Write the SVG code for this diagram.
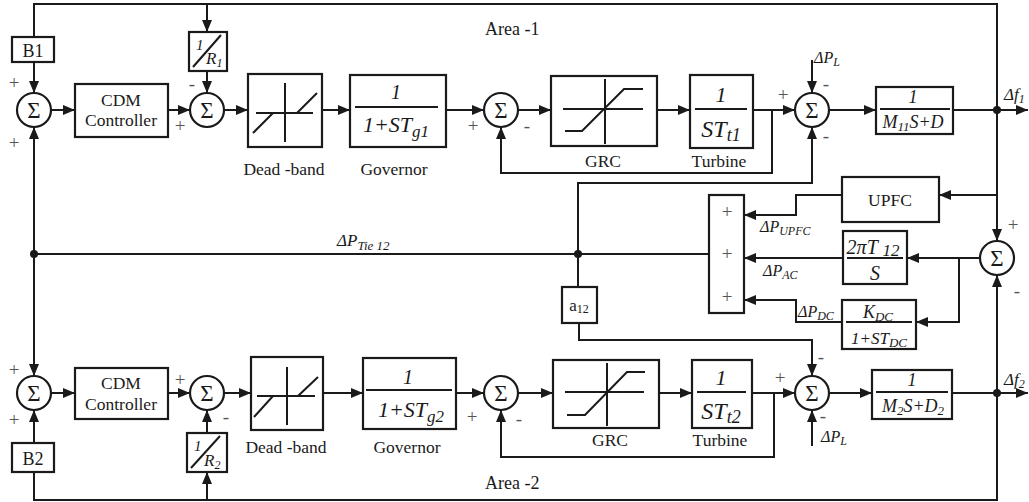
<svg xmlns="http://www.w3.org/2000/svg" width="1029" height="502" viewBox="0 0 1029 502">
<defs>
<marker id="ar" markerUnits="userSpaceOnUse" markerWidth="13" markerHeight="10" refX="12" refY="5" orient="auto">
<path d="M0,0 L12,5 L0,10 Z" fill="#1a1a1a"/>
</marker>
<style>
.blk{fill:#fff;stroke:#1a1a1a;stroke-width:2.2}
.ln{fill:none;stroke:#1a1a1a;stroke-width:2}
.ar{marker-end:url(#ar)}
.in{fill:none;stroke:#1a1a1a;stroke-width:2}
.sg{fill:#fff;stroke:#1a1a1a;stroke-width:2.2}
.t{font-family:"Liberation Serif","Times New Roman",serif;fill:#1a1a1a}
.lab{font-size:17.5px;text-anchor:middle}
.m{font-style:italic;text-anchor:middle}
.sn{font-family:"Liberation Serif",serif;font-size:19px;fill:#555;text-anchor:middle}
.sig{font-family:"Liberation Serif",serif;font-size:23px;fill:#1a1a1a;text-anchor:middle}
.dot{fill:#1a1a1a}
</style>
</defs>

<g id="connectors">
<path class="ln" d="M997,110 V4 H34 V37"/>
<path class="ln ar" d="M207,4 V32"/>
<path class="ln ar" d="M34,62 V93"/>
<path class="ln ar" d="M51,110 H75"/>
<path class="ln ar" d="M168,110 H190"/>
<path class="ln ar" d="M207,71 V93"/>
<path class="ln ar" d="M224,110 H248"/>
<path class="ln ar" d="M322,110 H350"/>
<path class="ln ar" d="M446,110 H484"/>
<path class="ln ar" d="M518,110 H551"/>
<path class="ln ar" d="M657,110 H690"/>
<path class="ln ar" d="M753,110 H795"/>
<path class="ln ar" d="M772,110 V173 H501 V127"/>
<path class="ln ar" d="M812,60 V93"/>
<path class="ln ar" d="M829,110 H876"/>
<path class="ln ar" d="M953,110 H1028"/>
<path class="ln ar" d="M997,110 V241"/>
<path class="ln ar" d="M997,195 H939"/>
<path class="ln ar" d="M842,195 H796 V215 H744"/>
<path class="ln ar" d="M980,258 H907"/>
<path class="ln ar" d="M959,258 V322 H916"/>
<path class="ln ar" d="M843,258 H744"/>
<path class="ln ar" d="M842,322 H796 V300 H744"/>
<path class="ln" d="M709,254 H34"/>
<path class="ln ar" d="M578,254 V183 H812 V127"/>
<path class="ln" d="M578,254 V287"/>
<path class="ln ar" d="M579,323 V340 H812 V376"/>
<path class="ln ar" d="M34,254 V127"/>
<path class="ln ar" d="M34,254 V376"/>
<path class="ln ar" d="M997,393 V275"/>
<path class="ln" d="M34,472 V500 H997 V393"/>
<path class="ln ar" d="M34,443 V410"/>
<path class="ln ar" d="M51,393 H75"/>
<path class="ln ar" d="M168,393 H190"/>
<path class="ln ar" d="M207,500 V472"/>
<path class="ln ar" d="M207,433 V410"/>
<path class="ln ar" d="M224,393 H251"/>
<path class="ln ar" d="M323,393 H363"/>
<path class="ln ar" d="M456,393 H484"/>
<path class="ln ar" d="M518,393 H553"/>
<path class="ln ar" d="M659,393 H692"/>
<path class="ln ar" d="M752,393 H795"/>
<path class="ln ar" d="M774,393 V457 H501 V410"/>
<path class="ln ar" d="M812,446 V410"/>
<path class="ln ar" d="M829,393 H872"/>
<path class="ln ar" d="M952,393 H1028"/>
<circle class="dot" cx="997" cy="110" r="4"/>
<circle class="dot" cx="997" cy="393" r="4"/>
<circle class="dot" cx="578" cy="254" r="4"/>
<circle class="dot" cx="34" cy="254" r="4"/>
</g>

<g id="B1"><rect class="blk" x="12" y="37" width="42" height="25"/><text class="t" x="33" y="57" font-size="18" text-anchor="middle">B1</text></g>
<g id="sum1"><circle class="sg" cx="34" cy="110" r="17"/><text class="sig" x="34" y="118">Σ</text>
<text class="sn" x="14" y="89">+</text><text class="sn" x="14" y="149">+</text></g>
<g id="CDM1"><rect class="blk" x="75" y="84" width="93" height="53"/><text class="t lab" x="121" y="106">CDM</text><text class="t lab" x="121" y="126">Controller</text></g>
<g id="R1"><rect class="blk" x="189" y="32" width="38" height="39"/><path class="in" d="M193,67 L221,35" stroke-width="1.5"/>
<text class="t" x="196" y="50" font-size="15" font-style="italic">1</text><text class="t" x="206" y="64" font-size="17" font-style="italic">R<tspan font-size="12" dy="3">1</tspan></text></g>
<g id="sum2"><circle class="sg" cx="207" cy="110" r="17"/><text class="sig" x="207" y="118">Σ</text>
<text class="sn" x="192" y="90">-</text><text class="sn" x="180" y="132">+</text></g>
<g id="DB1"><rect class="blk" x="248" y="74" width="74" height="73"/>
<path class="in" d="M256,113 H313 M285,83 V142 M253,133 L273,113 M297,113 L317,93"/>
<text class="t lab" x="284" y="175">Dead -band</text></g>
<g id="Gov1"><rect class="blk" x="350" y="75" width="96" height="72"/><path class="in" d="M355,107 H438" stroke-width="1.3"/>
<text class="t m" x="396" y="99" font-size="20">1</text><text class="t m" x="396" y="132" font-size="22">1+ST<tspan font-size="17" dy="5">g1</tspan></text>
<text class="t lab" x="394" y="175">Governor</text></g>
<g id="sum3"><circle class="sg" cx="501" cy="110" r="17"/><text class="sig" x="501" y="118">Σ</text>
<text class="sn" x="473" y="132">+</text><text class="sn" x="527" y="132">-</text></g>
<g id="GRC1"><rect class="blk" x="551" y="76" width="106" height="70"/>
<path class="in" d="M563,109 H643 M605,79 V144 M565,131 H582 L624,89 H643"/>
<text class="t lab" x="603" y="167">GRC</text></g>
<g id="Turb1"><rect class="blk" x="690" y="75" width="63" height="73"/><path class="in" d="M695,109 H747" stroke-width="1.3"/>
<text class="t m" x="721" y="102" font-size="22">1</text><text class="t m" x="721" y="137" font-size="24">ST<tspan font-size="18" dy="4">t1</tspan></text>
<text class="t lab" x="719" y="167">Turbine</text></g>
<g id="sum4"><circle class="sg" cx="812" cy="110" r="17"/><text class="sig" x="812" y="118">Σ</text>
<text class="sn" x="783" y="101">+</text><text class="sn" x="826" y="90">-</text><text class="sn" x="826" y="142">-</text>
<text class="t" x="814" y="63" font-size="16" font-style="italic">ΔP<tspan font-size="12" dy="3">L</tspan></text></g>
<g id="M1"><rect class="blk" x="876" y="87" width="77" height="47"/><path class="in" d="M880,109 H950" stroke-width="1.3"/>
<text class="t m" x="913" y="103" font-size="18">1</text><text class="t m" x="913" y="128" font-size="18">M<tspan font-size="13" dy="3">11</tspan><tspan dy="-3">S+D</tspan></text></g>
<text class="t" x="1004" y="100" font-size="17" font-style="italic">Δf<tspan font-size="12" dy="3">1</tspan></text>
<text class="t" x="485" y="35" font-size="18">Area -1</text>

<g id="UPFC"><rect class="blk" x="842" y="177" width="97" height="45"/><text class="t lab" x="890" y="206" font-size="18">UPFC</text></g>
<g id="sumbox"><rect class="blk" x="709" y="195" width="35" height="118"/>
<text class="sn" x="727" y="218">+</text><text class="sn" x="727" y="260">+</text><text class="sn" x="727" y="303">+</text></g>
<g id="AC"><rect class="blk" x="843" y="231" width="64" height="53"/><path class="in" d="M847,258 H903" stroke-width="1.3"/>
<text class="t m" x="873" y="254" font-size="20">2πT <tspan font-size="17" dy="2">12</tspan></text><text class="t m" x="875" y="280" font-size="20">S</text></g>
<g id="DC"><rect class="blk" x="842" y="300" width="74" height="49"/><path class="in" d="M846,322 H912" stroke-width="1.3"/>
<text class="t m" x="878" y="318" font-size="18">K<tspan font-size="13" dy="3">DC</tspan></text><text class="t m" x="879" y="344" font-size="17">1+ST<tspan font-size="13" dy="3">DC</tspan></text></g>
<g id="sum5"><circle class="sg" cx="997" cy="258" r="17"/><text class="sig" x="997" y="266">Σ</text>
<text class="sn" x="1013" y="231">+</text><text class="sn" x="1017" y="297">-</text></g>
<g id="a12"><rect class="blk" x="562" y="287" width="35" height="36"/><text class="t" x="579" y="311" font-size="17" text-anchor="middle">a<tspan font-size="12" dy="2">12</tspan></text></g>
<text class="t" x="337" y="246" font-size="17" font-style="italic">ΔP<tspan font-size="13" dy="4">Tie 12</tspan></text>
<text class="t" x="760" y="232" font-size="16" font-style="italic">ΔP<tspan font-size="12" dy="3">UPFC</tspan></text>
<text class="t" x="763" y="276" font-size="16" font-style="italic">ΔP<tspan font-size="12" dy="3">AC</tspan></text>
<text class="t" x="798" y="317" font-size="16" font-style="italic">ΔP<tspan font-size="12" dy="3">DC</tspan></text>

<g id="B2"><rect class="blk" x="12" y="443" width="42" height="29"/><text class="t" x="33" y="465" font-size="18" text-anchor="middle">B2</text></g>
<g id="sum7"><circle class="sg" cx="34" cy="393" r="17"/><text class="sig" x="34" y="401">Σ</text>
<text class="sn" x="14" y="376">+</text><text class="sn" x="14" y="426">+</text></g>
<g id="CDM2"><rect class="blk" x="75" y="368" width="93" height="51"/><text class="t lab" x="121" y="389">CDM</text><text class="t lab" x="121" y="410">Controller</text></g>
<g id="R2"><rect class="blk" x="187" y="433" width="40" height="39"/><path class="in" d="M191,468 L220,436" stroke-width="1.5"/>
<text class="t" x="194" y="451" font-size="15" font-style="italic">1</text><text class="t" x="204" y="466" font-size="17" font-style="italic">R<tspan font-size="12" dy="3">2</tspan></text></g>
<g id="sum8"><circle class="sg" cx="207" cy="393" r="17"/><text class="sig" x="207" y="401">Σ</text>
<text class="sn" x="180" y="386">+</text><text class="sn" x="226" y="423">-</text></g>
<g id="DB2"><rect class="blk" x="251" y="357" width="72" height="73"/>
<path class="in" d="M257,396 H315 M287,367 V425 M254,417 L273,396 M298,396 L318,377"/>
<text class="t lab" x="286" y="453">Dead -band</text></g>
<g id="Gov2"><rect class="blk" x="363" y="358" width="93" height="71"/><path class="in" d="M366,390 H452" stroke-width="1.3"/>
<text class="t m" x="408" y="384" font-size="20">1</text><text class="t m" x="411" y="417" font-size="22">1+ST<tspan font-size="17" dy="5">g2</tspan></text>
<text class="t lab" x="407" y="453">Governor</text></g>
<g id="sum9"><circle class="sg" cx="501" cy="393" r="17"/><text class="sig" x="501" y="401">Σ</text>
<text class="sn" x="472" y="423">+</text><text class="sn" x="519" y="425">-</text></g>
<g id="GRC2"><rect class="blk" x="553" y="360" width="106" height="68"/>
<path class="in" d="M565,392 H644 M607,363 V426 M567,415 H585 L627,372 H645"/>
<text class="t lab" x="610" y="446">GRC</text></g>
<g id="Turb2"><rect class="blk" x="692" y="360" width="60" height="68"/><path class="in" d="M697,392 H746" stroke-width="1.3"/>
<text class="t m" x="721" y="385" font-size="22">1</text><text class="t m" x="721" y="419" font-size="24">ST<tspan font-size="18" dy="4">t2</tspan></text>
<text class="t lab" x="720" y="446">Turbine</text></g>
<g id="sum10"><circle class="sg" cx="812" cy="393" r="17"/><text class="sig" x="812" y="401">Σ</text>
<text class="sn" x="780" y="384">+</text><text class="sn" x="821" y="363">-</text><text class="sn" x="823" y="422">-</text>
<text class="t" x="821" y="442" font-size="16" font-style="italic">ΔP<tspan font-size="12" dy="3">L</tspan></text></g>
<g id="M2"><rect class="blk" x="872" y="370" width="80" height="49"/><path class="in" d="M876,392 H948" stroke-width="1.3"/>
<text class="t m" x="912" y="386" font-size="18">1</text><text class="t m" x="913" y="412" font-size="18">M<tspan font-size="13" dy="3">2</tspan><tspan dy="-3">S+D</tspan><tspan font-size="13" dy="3">2</tspan></text></g>
<text class="t" x="1004" y="385" font-size="17" font-style="italic">Δf<tspan font-size="12" dy="3">2</tspan></text>
<text class="t" x="485" y="489" font-size="18">Area -2</text>
</svg>
